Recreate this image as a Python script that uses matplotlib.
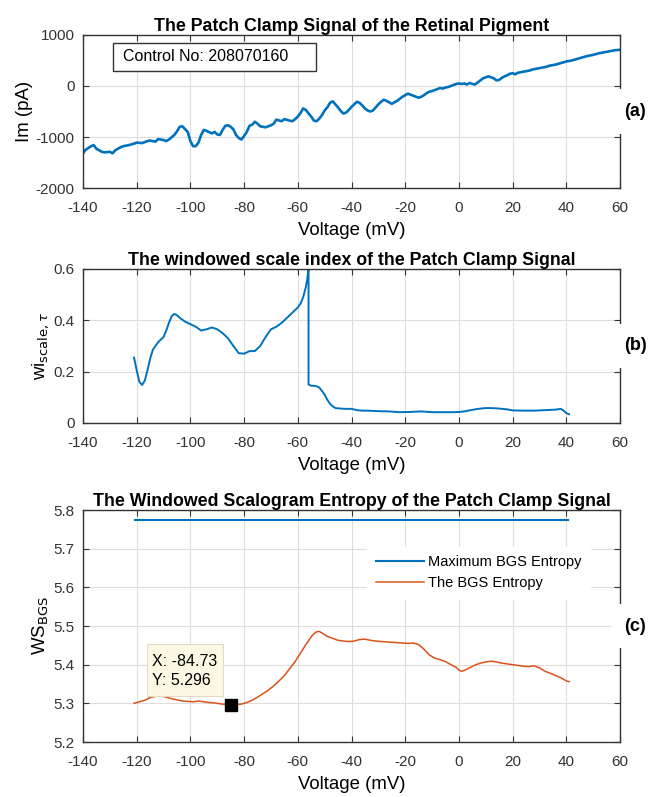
import numpy as np
import matplotlib.pyplot as plt
from matplotlib.patches import Rectangle

plt.rcParams['font.family'] = ['Liberation Sans', 'DejaVu Sans']
plt.rcParams['axes.unicode_minus'] = False

BLUE = '#0072BD'
ORANGE = '#D95319'

# (a) membrane current vs voltage
v_a = [-140, -139, -137, -136, -135, -133, -132, -130, -129, -128,
       -126, -125, -123, -121, -120, -118, -116, -115, -113, -112,
       -110, -109, -108, -106, -105, -104, -103, -101, -100, -99,
       -98, -97, -96, -95, -94, -92, -91, -90, -89, -88,
       -87, -86, -85, -84, -83, -82, -81, -80, -79, -78,
       -77, -76, -75, -74, -73, -72, -70, -69, -68, -66,
       -65, -63, -62, -61, -60, -59, -58, -57, -56, -55,
       -54, -53, -52, -51, -50, -49, -48, -47, -46, -45,
       -44, -43, -42, -41, -40, -39, -38, -37, -36, -35,
       -34, -33, -32, -31, -30, -29, -28, -27, -26, -25,
       -24, -23, -22, -21, -20, -19, -18, -17, -16, -15,
       -14, -13, -12, -11, -10, -9, -8, -7, -6, -5,
       -4, -3, -2, -1, 0, 1, 2, 3, 4, 5,
       6, 7, 8, 9, 10, 11, 12, 13, 14, 15,
       16, 17, 18, 19, 20, 21, 22, 24, 26, 28,
       30, 32, 34, 36, 38, 40, 42, 44, 46, 48,
       50, 52, 54, 56, 58, 60]
im_a = [-1320, -1250, -1180, -1160, -1230, -1290, -1300, -1290, -1320, -1260,
        -1200, -1180, -1160, -1130, -1110, -1120, -1080, -1070, -1090, -1040,
        -1060, -1080, -1050, -960, -890, -800, -790, -900, -1080, -1180,
        -1180, -1110, -960, -860, -880, -930, -900, -950, -960, -860,
        -780, -770, -800, -850, -960, -1020, -1050, -980, -900, -780,
        -760, -700, -740, -790, -800, -810, -770, -740, -660, -690,
        -650, -680, -690, -650, -600, -530, -440, -470, -540, -600,
        -680, -690, -640, -570, -480, -420, -330, -300, -360, -420,
        -490, -540, -520, -470, -410, -360, -310, -330, -380, -440,
        -480, -500, -480, -420, -360, -310, -270, -290, -320, -350,
        -320, -290, -250, -210, -180, -150, -170, -190, -210, -230,
        -210, -180, -140, -110, -100, -80, -60, -40, -50, -30,
        -20, 0, 20, 40, 50, 40, 50, 30, 60, 40,
        30, 70, 110, 150, 170, 190, 170, 150, 110, 120,
        160, 190, 210, 240, 250, 230, 260, 280, 300, 330,
        350, 370, 400, 420, 450, 480, 500, 530, 560, 590,
        610, 640, 660, 680, 700, 710]

# (b) windowed scale index
v_b = [-121, -120, -119, -118, -117, -116, -115, -114, -112, -110,
       -109, -108, -107, -106, -105, -104, -102, -100, -98, -96,
       -94, -92, -90, -88, -86, -84, -82, -80, -78, -76,
       -74, -72, -70, -68, -66, -64, -62, -60, -59, -58,
       -57.5, -57, -56.5, -56.2, -56.0, -56.0, -55, -54, -53, -52,
       -51, -50, -49, -48, -47, -46, -44, -42, -40, -38,
       -36, -34, -30, -26, -22, -18, -14, -10, -6, -2,
       0, 2, 4, 6, 8, 10, 12, 14, 16, 18,
       20, 24, 28, 32, 36, 38, 39, 40, 41]
wi_b = [0.255, 0.205, 0.16, 0.148, 0.165, 0.205, 0.25, 0.285, 0.315, 0.335,
        0.36, 0.39, 0.415, 0.425, 0.42, 0.41, 0.395, 0.385, 0.375, 0.36,
        0.365, 0.372, 0.365, 0.35, 0.33, 0.3, 0.272, 0.27, 0.28, 0.28,
        0.3, 0.335, 0.365, 0.375, 0.39, 0.41, 0.43, 0.45, 0.465, 0.49,
        0.51, 0.53, 0.56, 0.585, 0.6, 0.15, 0.145, 0.145, 0.143, 0.138,
        0.125, 0.11, 0.09, 0.075, 0.065, 0.058, 0.056, 0.055, 0.055, 0.05,
        0.048, 0.048, 0.046, 0.045, 0.042, 0.043, 0.045, 0.042, 0.042, 0.042,
        0.043, 0.045, 0.049, 0.053, 0.056, 0.058, 0.058, 0.057, 0.055, 0.053,
        0.049, 0.048, 0.048, 0.05, 0.052, 0.055, 0.048, 0.038, 0.034]

# (c) windowed scalogram entropy
v_c = [-121, -119, -117, -115, -113, -111, -109, -107, -105, -103,
       -101, -99, -97, -95, -93, -91, -89, -87, -85, -83,
       -81, -79, -77, -75, -73, -71, -69, -67, -65, -63,
       -61, -59, -57, -55, -54, -53, -52, -51, -49, -47,
       -45, -43, -41, -39, -37, -35, -33, -31, -29, -27,
       -25, -23, -21, -19, -17, -15, -13, -11, -9, -7,
       -5, -3, -1, 0, 1, 2, 4, 6, 8, 10,
       12, 14, 16, 18, 20, 22, 24, 26, 28, 30,
       32, 34, 36, 38, 40, 41]
ws_c = [5.300, 5.304, 5.308, 5.315, 5.318, 5.319, 5.316, 5.312, 5.309, 5.306,
        5.305, 5.304, 5.306, 5.304, 5.302, 5.301, 5.299, 5.297, 5.296, 5.297,
        5.298, 5.302, 5.308, 5.316, 5.325, 5.334, 5.345, 5.358, 5.372, 5.390,
        5.408, 5.430, 5.452, 5.472, 5.480, 5.485, 5.486, 5.482, 5.473, 5.468,
        5.463, 5.461, 5.460, 5.461, 5.465, 5.466, 5.463, 5.461, 5.460, 5.459,
        5.458, 5.457, 5.456, 5.455, 5.456, 5.452, 5.44, 5.425, 5.417, 5.413,
        5.408, 5.400, 5.393, 5.386, 5.383, 5.385, 5.392, 5.399, 5.404, 5.407,
        5.409, 5.407, 5.404, 5.402, 5.400, 5.398, 5.396, 5.395, 5.397, 5.392,
        5.383, 5.378, 5.372, 5.366, 5.358, 5.356]
ws_max = 5.773
ws_max_range = [-120.8, 40.7]
tip_x, tip_y = -84.73, 5.296

x_ticks = np.arange(-140, 61, 20)

fig = plt.figure(figsize=(6.48, 7.97), dpi=100)
ax_a = fig.add_axes([0.1281, 0.7641, 0.8287, 0.1920])
ax_b = fig.add_axes([0.1281, 0.4693, 0.8287, 0.1932])
ax_c = fig.add_axes([0.1281, 0.0690, 0.8287, 0.2911])


def style(ax, title, ylabel, tag):
    ax.set_xlim(-140, 60)
    ax.set_xticks(x_ticks)
    ax.grid(True, color='#dedede', linewidth=0.8)
    ax.set_axisbelow(True)
    for s in ax.spines.values():
        s.set_linewidth(1.0)
        s.set_color('#333333')
    ax.tick_params(direction='in', length=4, labelsize=11, colors='#333333',
                   top=True, right=True)
    ax.tick_params(axis='x', pad=9.5)
    ax.tick_params(axis='y', pad=6)
    ax.set_title(title, fontsize=12.8, fontweight='bold', pad=3)
    ax.set_xlabel('Voltage (mV)', fontsize=13.4, labelpad=5)
    ax.set_ylabel(ylabel, fontsize=13.4, labelpad=2)
    ax.text(1.008, 0.5, tag, transform=ax.transAxes, fontsize=13, fontweight='bold',
            va='center', ha='left', zorder=5, clip_on=False,
            bbox=dict(facecolor='white', edgecolor='none',
                      boxstyle='square,pad=0.75'))


ax_a.plot(v_a, im_a, color=BLUE, lw=1.9)
ax_a.set_ylim(-2000, 1000)
ax_a.set_yticks([-2000, -1000, 0, 1000])
style(ax_a, 'The Patch Clamp Signal of the Retinal Pigment', 'Im (pA)', '(a)')
ax_a.add_patch(Rectangle((-128.8, 294), 75.6, 549, facecolor='white',
                         edgecolor='#333333', linewidth=1.0, zorder=4))
ax_a.text(-125.1, 569, 'Control No: 208070160', fontsize=11.5, va='center',
          ha='left', zorder=5)

ax_b.plot(v_b, wi_b, color=BLUE, lw=1.4)
ax_b.set_ylim(0, 0.6)
ax_b.set_yticks([0, 0.2, 0.4, 0.6])
ax_b.set_yticklabels(['0', '0.2', '0.4', '0.6'])
style(ax_b, 'The windowed scale index of the Patch Clamp Signal',
      r'wi$_{\mathrm{scale},\tau}$', '(b)')

ax_c.plot(ws_max_range, [ws_max, ws_max], color=BLUE, lw=1.5, label='Maximum BGS Entropy')
ax_c.plot(v_c, ws_c, color=ORANGE, lw=1.1, label='The BGS Entropy')
ax_c.set_ylim(5.2, 5.8)
ax_c.set_yticks(np.arange(5.2, 5.81, 0.1))
ax_c.set_yticklabels(['5.2', '5.3', '5.4', '5.5', '5.6', '5.7', '5.8'])
style(ax_c, 'The Windowed Scalogram Entropy of the Patch Clamp Signal',
      r'WS$_{\mathrm{BGS}}$', '(c)')
ax_c.legend(loc='upper right', bbox_to_anchor=(0.944, 0.842), fontsize=10.5,
            frameon=True, framealpha=1.0, edgecolor='white', fancybox=False,
            handlelength=3.3, handletextpad=0.27, borderpad=0.6, labelspacing=0.45,
            borderaxespad=0)
ax_c.plot([tip_x], [tip_y], marker='s', color='black', markersize=8, linestyle='none',
          zorder=6)
ax_c.add_patch(Rectangle((-116.2, 5.319), 28.3, 0.134, facecolor='#fcf8e3',
                         edgecolor='#e2dcc4', linewidth=0.8, zorder=4))
ax_c.text(-114.3, 5.384, 'X: %.2f\nY: %.3f' % (tip_x, tip_y), fontsize=11.5,
          va='center', ha='left', linespacing=1.3, zorder=5)

fig.savefig('out.png', dpi=100)
